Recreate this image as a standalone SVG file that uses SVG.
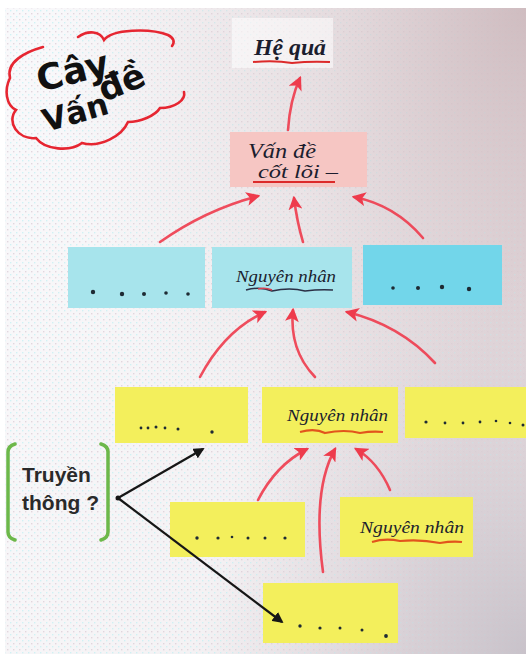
<svg xmlns="http://www.w3.org/2000/svg" width="526" height="654" viewBox="0 0 526 654">
  <defs>
    <linearGradient id="paper" x1="0" y1="0" x2="1" y2="0.3">
      <stop offset="0" stop-color="#f9f9fb"/>
      <stop offset="0.6" stop-color="#f4f2f4"/>
      <stop offset="1" stop-color="#e0d6da"/>
    </linearGradient>
    <radialGradient id="cornerTop" cx="1" cy="0" r="0.9">
      <stop offset="0" stop-color="#cdb9bd" stop-opacity="0.9"/>
      <stop offset="1" stop-color="#e6dcdf" stop-opacity="0"/>
    </radialGradient>
    <radialGradient id="cornerBottom" cx="1" cy="1" r="0.6">
      <stop offset="0" stop-color="#c6c0c8" stop-opacity="0.9"/>
      <stop offset="1" stop-color="#e4dde2" stop-opacity="0"/>
    </radialGradient>
    <pattern id="dots" width="6" height="6" patternUnits="userSpaceOnUse">
      <rect x="1" y="1" width="1.4" height="1.4" fill="#d9c8d2"/>
      <rect x="4" y="4" width="1.4" height="1.4" fill="#bfeff2"/>
    </pattern>
    <marker id="redHead" viewBox="0 0 12 12" refX="10" refY="6" markerWidth="14" markerHeight="14" markerUnits="userSpaceOnUse" orient="auto">
      <path d="M0,0 L12,6 L0,12 L3,6 Z" fill="#ee3b4c"/>
    </marker>
    <marker id="blackHead" viewBox="0 0 12 12" refX="10" refY="6" markerWidth="11" markerHeight="11" markerUnits="userSpaceOnUse" orient="auto">
      <path d="M0,0 L12,6 L0,12 Z" fill="#161616"/>
    </marker>
  </defs>
  <style>
    .hand { font-family: "Liberation Serif", "DejaVu Serif", serif; font-style: italic; fill: #1b1d2e; }
    .title { font-family: "DejaVu Sans", "Liberation Sans", sans-serif; font-weight: bold; fill: #111; }
    .print { font-family: "Liberation Sans", Arial, sans-serif; font-weight: bold; fill: #2a2a2a; font-size: 21px; }
    .cyan { fill: #a7e4ec; }
    .cyanDeep { fill: #72d6ea; }
    .yellow { fill: #f3ef5c; }
    .pink { fill: #f6c6c3; }
    .dot { fill: #1e2a33; }
    .red { fill: none; stroke: #ee3b4c; stroke-width: 2.6; stroke-linecap: round; stroke-opacity: 0.9; marker-end: url(#redHead); }
    .black { fill: none; stroke: #161616; stroke-width: 2.2; marker-end: url(#blackHead); }
    .ulRed { fill: none; stroke: #dc2a2a; stroke-width: 2; }
    .ulOrange { fill: none; stroke: #e2541c; stroke-width: 2.2; }
    .cloud { fill: none; stroke: #e62631; stroke-width: 2.6; stroke-linecap: round; }
    .bracket { fill: none; stroke: #6cb84a; stroke-width: 3.5; stroke-linecap: round; }
  </style>

  <!-- board background -->
  <rect width="526" height="654" fill="#ffffff"/>
  <rect x="5" y="8" width="521" height="646" fill="url(#paper)"/>
  <rect x="5" y="8" width="521" height="646" fill="url(#dots)" opacity="0.7"/>
  <rect x="5" y="8" width="521" height="646" fill="url(#cornerTop)"/>
  <rect x="5" y="8" width="521" height="646" fill="url(#cornerBottom)"/>

  <!-- title cloud -->
  <g id="title">
    <path class="cloud" d="M43,47 C25,52 6,62 10,78 C4,90 6,105 16,110 C6,122 18,140 36,138 C45,150 70,152 82,143 C100,148 122,136 128,122 C140,122 155,116 160,108 C175,108 186,100 184,92"/>
    <path class="cloud" d="M78,37 C88,30 100,31 104,40 C112,29 150,28 168,35 C174,38 175,42 172,46"/>
    <text class="title" x="40" y="92" font-size="36" transform="rotate(-14 40 92)">Cây</text>
    <text class="title" x="104" y="102" font-size="34" transform="rotate(-22 104 102)">đề</text>
    <text class="title" x="46" y="132" font-size="31" transform="rotate(-16 46 132)">Vấn</text>
  </g>

  <!-- effects -->
  <g id="he-qua">
    <rect x="232" y="18" width="101" height="50" fill="#ffffff" opacity="0.55"/>
    <text class="hand" x="254" y="55" font-size="24" font-weight="bold" textLength="72" lengthAdjust="spacingAndGlyphs">Hệ quả</text>
    <path class="ulRed" d="M253,62 Q275,60 292,63 Q310,61 330,62"/>
  </g>

  <!-- core problem -->
  <g id="van-de-cot-loi">
    <rect class="pink" x="230" y="132" width="137" height="55"/>
    <text class="hand" x="248" y="158" font-size="20" textLength="68" lengthAdjust="spacingAndGlyphs">Vấn đề</text>
    <text class="hand" x="258" y="178" font-size="19" textLength="80" lengthAdjust="spacingAndGlyphs">cốt lõi –</text>
    <path class="ulRed" d="M253,182 L335,182"/>
  </g>

  <!-- cause level 1 -->
  <g id="cause-1-left">
    <rect class="cyan" x="68" y="247" width="137" height="61"/>
    <circle class="dot" cx="93" cy="292" r="2.2"/>
    <circle class="dot" cx="122" cy="294" r="2.2"/>
    <circle class="dot" cx="144" cy="294" r="2"/>
    <circle class="dot" cx="166" cy="293" r="1.8"/>
    <circle class="dot" cx="188" cy="294" r="1.8"/>
  </g>
  <g id="cause-1-main">
    <rect class="cyan" x="212" y="247" width="140" height="61"/>
    <text class="hand" x="236" y="282" font-size="17" textLength="100" lengthAdjust="spacingAndGlyphs">Nguyên nhân</text>
    <path d="M246,290 Q260,286 272,291 Q290,287 305,291 Q320,289 333,290" fill="none" stroke="#2b2f45" stroke-width="1.5"/>
    <path d="M258,289 Q265,287 272,290" fill="none" stroke="#d84050" stroke-width="1.5"/>
  </g>
  <g id="cause-1-right">
    <rect class="cyanDeep" x="363" y="245" width="139" height="60"/>
    <circle class="dot" cx="393" cy="288" r="1.8"/>
    <circle class="dot" cx="418" cy="288" r="2"/>
    <circle class="dot" cx="442" cy="287" r="2.2"/>
    <circle class="dot" cx="469" cy="289" r="2.2"/>
  </g>

  <!-- cause level 2 -->
  <g id="cause-2-left">
    <rect class="yellow" x="115" y="387" width="133" height="56"/>
    <circle class="dot" cx="141" cy="428" r="1.4"/>
    <circle class="dot" cx="148" cy="428" r="1.4"/>
    <circle class="dot" cx="156" cy="427" r="1.5"/>
    <circle class="dot" cx="165" cy="428" r="1.4"/>
    <circle class="dot" cx="178" cy="429" r="1.5"/>
    <circle class="dot" cx="212" cy="432" r="1.7"/>
  </g>
  <g id="cause-2-main">
    <rect class="yellow" x="262" y="387" width="136" height="56"/>
    <text class="hand" x="287" y="421" font-size="17" textLength="101" lengthAdjust="spacingAndGlyphs">Nguyên nhân</text>
    <path class="ulOrange" d="M300,432 Q315,428 325,433 Q345,429 360,433 Q372,431 383,432"/>
  </g>
  <g id="cause-2-right">
    <rect class="yellow" x="405" y="387" width="121" height="51"/>
    <circle class="dot" cx="426" cy="422" r="1.6"/>
    <circle class="dot" cx="445" cy="423" r="1.4"/>
    <circle class="dot" cx="463" cy="423" r="1.4"/>
    <circle class="dot" cx="480" cy="422" r="1.4"/>
    <circle class="dot" cx="496" cy="421" r="1.3"/>
    <circle class="dot" cx="510" cy="423" r="1.3"/>
    <circle class="dot" cx="523" cy="425" r="1.5"/>
  </g>

  <!-- cause level 3 -->
  <g id="cause-3-left">
    <rect class="yellow" x="170" y="502" width="135" height="55"/>
    <circle class="dot" cx="197" cy="538" r="1.7"/>
    <circle class="dot" cx="218" cy="538" r="1.6"/>
    <circle class="dot" cx="232" cy="537" r="1.3"/>
    <circle class="dot" cx="248" cy="538" r="1.5"/>
    <circle class="dot" cx="265" cy="538" r="1.5"/>
    <circle class="dot" cx="285" cy="538" r="1.6"/>
  </g>
  <g id="cause-3-right">
    <rect class="yellow" x="340" y="497" width="133" height="60"/>
    <text class="hand" x="360" y="533" font-size="17" textLength="104" lengthAdjust="spacingAndGlyphs">Nguyên nhân</text>
    <path class="ulOrange" d="M372,542 Q385,538 400,541 Q420,539 440,543 Q452,541 462,542"/>
  </g>

  <!-- cause level 4 -->
  <g id="cause-4">
    <rect class="yellow" x="263" y="583" width="135" height="60"/>
    <circle class="dot" cx="300" cy="626" r="1.7"/>
    <circle class="dot" cx="320" cy="628" r="1.6"/>
    <circle class="dot" cx="340" cy="628" r="1.5"/>
    <circle class="dot" cx="362" cy="630" r="1.5"/>
    <circle class="dot" cx="386" cy="636" r="1.9"/>
  </g>

  <!-- communication entry point -->
  <g id="truyen-thong">
    <path class="bracket" d="M15,444 Q8,446 8,452 L8,532 Q8,538 15,540"/>
    <path class="bracket" d="M101,444 Q108,446 108,452 L108,532 Q108,538 101,540"/>
    <text class="print" x="22" y="482">Truyền</text>
    <text class="print" x="22" y="510">thông ?</text>
    <circle cx="118" cy="498" r="2.5" fill="#161616"/>
  </g>

  <!-- connectors -->
  <g id="connectors">
    <path class="red" d="M288,130 Q290,100 300,78"/>
    <path class="red" d="M160,242 Q205,210 258,196"/>
    <path class="red" d="M303,242 Q297,222 294,198"/>
    <path class="red" d="M423,238 Q395,205 354,197"/>
    <path class="red" d="M200,377 Q225,330 265,312"/>
    <path class="red" d="M315,377 Q289,350 293,310"/>
    <path class="red" d="M435,363 Q400,325 347,312"/>
    <path class="red" d="M258,500 Q276,465 307,449"/>
    <path class="red" d="M323,572 Q312,490 335,449"/>
    <path class="red" d="M390,490 Q378,462 356,449"/>
    <path class="black" d="M118,498 L203,449"/>
    <path class="black" d="M118,498 L282,622"/>
  </g>
</svg>
